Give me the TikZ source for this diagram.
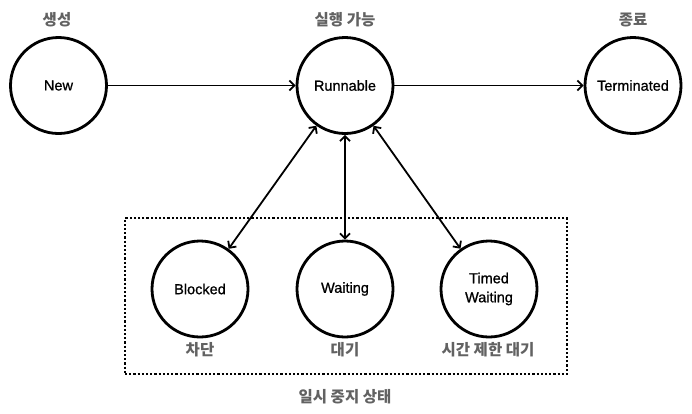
\documentclass[tikz,border=0pt]{standalone}
\usepackage{fontspec}
\setmainfont{Liberation Sans}
\newfontfamily\statefont[FakeBold=0.9]{Liberation Sans}
\newfontfamily\kofont{Noto Sans CJK KR}
\usetikzlibrary{arrows.meta}
\definecolor{labelgray}{RGB}{98,98,98}
\tikzset{
	state/.style={circle, draw=black, line width=2.8pt, minimum size=96pt, inner sep=0pt, align=center, font=\statefont\fontsize{14.5}{19}\selectfont},
	caption/.style={text=labelgray, font=\kofont\bfseries\fontsize{15.5}{18}\selectfont},
	flow/.style={line width=1.8pt, -{Straight Barb[length=5pt, width=10pt, line width=1.8pt]}},
	both/.style={line width=1.8pt, {Straight Barb[length=5pt, width=10pt, line width=1.8pt]}-{Straight Barb[length=5pt, width=10pt, line width=1.8pt]}},
	pausebox/.style={draw=black, line width=2.2pt, dash pattern=on 2.2pt off 2pt, minimum width=442pt, minimum height=156pt, inner sep=0pt}
}
\begin{document}
\begin{tikzpicture}[x=1pt, y=-1pt]

	\useasboundingbox (0, 0) rectangle (692, 413);

	% --- states ---
	\node[state] (new)		at (58.5, 85.5)	{New};
	\node[state] (runnable)	at (345, 85.5)	{Runnable};
	\node[state] (terminated)	at (633, 85.5)	{Terminated};

	\node[caption] (newlabel)		at (57, 20)	{생성};
	\node[caption] (runnablelabel)	at (345, 20)	{실행 가능};
	\node[caption] (terminatedlabel)	at (633, 20)	{종료};

	% --- paused ---
	\node[pausebox] (paused) at (346, 296) {};
	\node[caption] (pausedlabel) at (345, 397) {일시 중지 상태};

	\node[state] (blocked)	at (200, 289)	{Blocked};
	\node[state] (waiting)	at (345, 289)	{Waiting};
	\node[state] (timed)	at (489, 289)	{Timed\\Waiting};

	\node[caption] (blockedlabel)	at (200, 349.5)	{차단};
	\node[caption] (waitinglabel)	at (345, 349.5)	{대기};
	\node[caption] (timedlabel)	at (488, 349.5)	{시간 제한 대기};

	% transitions
	\draw[flow] (new) -- (runnable);
	\draw[flow] (runnable) -- (terminated);

	\draw[both] (runnable) -- (blocked);
	\draw[both] (runnable) -- (waiting);
	\draw[both] (runnable) -- (timed);

\end{tikzpicture}
\end{document}
